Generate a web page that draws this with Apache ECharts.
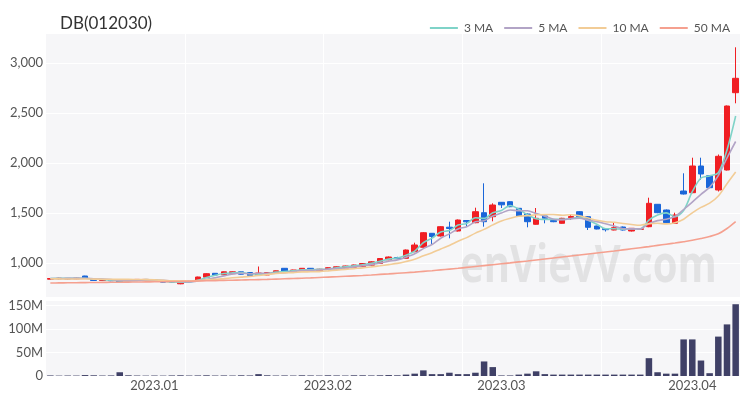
<!DOCTYPE html>
<html><head><meta charset="utf-8">
<script src="https://cdn.jsdelivr.net/npm/echarts@6/dist/echarts.min.js"></script>
<style>html,body{margin:0;padding:0;background:#fff}#c{width:750px;height:400px}</style>
</head><body><div id="c"></div>
<script>
const dates = [
'2022-12-14','2022-12-15','2022-12-16','2022-12-19','2022-12-20','2022-12-21','2022-12-22','2022-12-23','2022-12-26','2022-12-27','2022-12-28','2022-12-29',
'2023-01-02','2023-01-03','2023-01-04','2023-01-05','2023-01-06','2023-01-09','2023-01-10','2023-01-11','2023-01-12','2023-01-13','2023-01-16','2023-01-17','2023-01-18','2023-01-19','2023-01-20','2023-01-25','2023-01-26','2023-01-27','2023-01-30','2023-01-31',
'2023-02-01','2023-02-02','2023-02-03','2023-02-06','2023-02-07','2023-02-08','2023-02-09','2023-02-10','2023-02-13','2023-02-14','2023-02-15','2023-02-16','2023-02-17','2023-02-20','2023-02-21','2023-02-22','2023-02-23','2023-02-24','2023-02-27','2023-02-28',
'2023-03-02','2023-03-03','2023-03-06','2023-03-07','2023-03-08','2023-03-09','2023-03-10','2023-03-13','2023-03-14','2023-03-15','2023-03-16','2023-03-17','2023-03-20','2023-03-21','2023-03-22','2023-03-23','2023-03-24','2023-03-27','2023-03-28','2023-03-29','2023-03-30','2023-03-31',
'2023-04-03','2023-04-04','2023-04-05','2023-04-06','2023-04-07','2023-04-10'];
const openP = [838,842,840,842,870,838,825,830,830,825,828,830,830,820,818,792,818,828,858,897,882,893,912,905,875,880,897,947,907,923,947,922,937,942,948,957,963,978,995,1032,1055,1047,1113,1157,1297,1270,1358,1320,1425,1403,1503,1463,1607,1613,1547,1490,1387,1470,1425,1397,1453,1513,1463,1370,1345,1330,1360,1320,1337,1363,1587,1530,1397,1720,1703,1970,1873,1730,1930,2703];
const closeP = [845,848,846,848,848,825,833,822,808,833,836,836,815,808,808,812,812,860,893,880,912,912,888,875,900,905,922,915,930,947,922,938,953,962,970,980,995,1012,1045,1060,1045,1130,1180,1303,1265,1363,1345,1430,1412,1513,1413,1580,1582,1563,1470,1413,1447,1447,1413,1447,1465,1463,1357,1340,1333,1353,1330,1347,1342,1597,1503,1403,1480,1690,1970,1890,1753,2067,2570,2847];
const lowP = [832,836,835,838,845,820,820,818,805,820,825,826,810,805,803,788,808,825,855,875,878,888,885,872,870,877,893,912,903,920,918,918,933,938,945,953,958,973,990,1028,1035,1043,1108,1150,1180,1265,1247,1315,1370,1398,1363,1417,1550,1558,1465,1357,1383,1397,1408,1393,1430,1460,1330,1337,1315,1327,1325,1315,1333,1358,1498,1398,1393,1685,1698,1833,1748,1715,1925,2597];
const highP = [850,852,850,852,872,840,838,835,832,838,840,840,835,825,822,815,822,863,897,900,915,915,915,908,965,908,925,950,933,950,950,942,957,965,973,983,1000,1018,1050,1065,1062,1135,1203,1310,1300,1368,1413,1435,1428,1553,1797,1597,1610,1617,1550,1495,1550,1473,1428,1452,1480,1517,1467,1373,1350,1403,1365,1350,1347,1653,1590,1535,1503,1897,2053,2053,1878,2085,2575,3157];
const volumeM = [1.2,0.8,1.0,0.9,2.0,1.5,1.0,1.2,8,1.5,1.0,0.8,1.0,0.8,1.2,1.5,1.0,1.2,1.5,1.0,1.2,1.0,1.5,1.2,4,1.5,1.0,1.2,1.0,1.5,1.2,1.0,1.5,1.2,1.0,1.5,1.5,1.2,1.5,2,1.5,3,5,12,4,4,7,4,4,7,31,19,1.2,1.2,3,5,10,4,3,3,3,3,3,3,3,3,3,3,3,38,8,5,5,78,78,33,6,84,110,153];
const ma3 = [845,846,846,847,847,840,835,827,821,821,826,835,829,820,810,809,811,828,855,878,895,901,904,892,888,893,909,914,922,931,933,936,938,951,962,971,982,996,1017,1039,1050,1078,1118,1204,1249,1310,1324,1379,1396,1452,1446,1502,1525,1575,1538,1482,1443,1436,1436,1436,1442,1458,1428,1387,1343,1342,1339,1343,1340,1429,1481,1501,1462,1524,1713,1850,1871,1903,2130,2470];
const ma5 = [845,845,846,846,847,843,840,835,827,824,826,827,826,826,821,816,811,820,837,851,871,891,897,893,897,896,898,903,914,924,927,930,938,944,949,961,972,984,1000,1018,1031,1058,1092,1144,1185,1248,1291,1341,1363,1413,1423,1470,1500,1530,1522,1522,1495,1468,1438,1433,1444,1447,1429,1414,1392,1369,1343,1341,1341,1394,1424,1438,1465,1535,1609,1687,1757,1874,2050,2215];
const ma10 = [842,841,840,840,840,839,838,837,836,836,835,834,831,827,823,822,820,824,832,837,844,852,859,866,875,884,895,901,904,911,912,914,921,929,936,944,951,961,972,984,996,1015,1038,1072,1102,1140,1175,1217,1254,1299,1336,1381,1421,1447,1468,1473,1483,1485,1485,1478,1483,1472,1449,1427,1413,1407,1395,1385,1378,1393,1397,1391,1403,1438,1502,1556,1598,1670,1793,1910];
const ma50 = [800,801,802,803,804,805,806,807,808,809,810,811,812,813,815,816,818,820,822,824,826,828,830,832,834,836,839,842,845,848,851,855,859,863,867,871,875,880,886,891,897,903,909,916,923,931,939,947,956,965,974,983,992,1001,1011,1020,1030,1040,1050,1060,1070,1080,1090,1100,1110,1120,1131,1142,1153,1164,1176,1188,1200,1213,1227,1245,1265,1292,1345,1413];
const priceTicks = [1000,1500,2000,2500,3000];
const volTicks = [0,50,100,150];
const seriesNames = ['3 MA','5 MA','10 MA','50 MA'];
const title = 'DB(012030)';
const watermark = 'enVievV.com';

const UP = '#f01e23', DOWN = '#1a66d9';
const maColors = ['#7fd3c8','#b2a4c6','#f2cc96','#f5a08f'];
const ohlc = dates.map((d,i)=>[openP[i],closeP[i],lowP[i],highP[i]]);
const maData = [ma3,ma5,ma10,ma50];

const chart = echarts.init(document.getElementById('c'), null, {renderer:'canvas'});
const font = 'Lato, "Noto Sans", sans-serif';
const xLabelInterval = (i)=> i>0 && dates[i].slice(0,7)!==dates[i-1].slice(0,7);
const xSplit = (i)=> i>0 && i%16===0;
chart.setOption({
  animation:false,
  backgroundColor:'#ffffff',
  title:{text:title,left:55,top:10,textStyle:{fontSize:17,fontWeight:'normal',color:'#333',fontFamily:font}},
  legend:{right:15,top:17,itemWidth:28,itemHeight:2,itemGap:11,icon:'rect',
    textStyle:{fontSize:12,color:'#555',fontFamily:font,padding:[0,0,0,1]},
    data:seriesNames.map((n,i)=>({name:n,itemStyle:{color:maColors[i]}}))},
  graphic:[{type:'text',left:460,top:241,z:1,silent:true,scaleX:0.77,
    style:{text:watermark,fontSize:52,fontWeight:'bold',fontFamily:'"Open Sans", Arial, sans-serif',fill:'rgba(190,190,190,0.36)'}}],
  grid:[
    {left:46,right:10,top:33,height:264,show:true,backgroundColor:'#f6f6f8',borderWidth:0},
    {left:46,right:10,top:300,height:76,show:true,backgroundColor:'#f6f6f8',borderWidth:0}
  ],
  xAxis:[
    {type:'category',gridIndex:0,data:dates,boundaryGap:true,axisLine:{show:false},axisTick:{show:false},axisLabel:{show:false},
     splitLine:{show:true,interval:xSplit,lineStyle:{color:'#ffffff',width:1}}},
    {type:'category',gridIndex:1,data:dates,boundaryGap:true,axisLine:{show:false},axisTick:{show:false},
     axisLabel:{interval:xLabelInterval,formatter:v=>v.slice(0,7).replace('-','.'),fontSize:13,color:'#555',margin:3,fontFamily:font},
     splitLine:{show:true,interval:xSplit,lineStyle:{color:'#ffffff',width:1}}}
  ],
  yAxis:[
    {type:'value',gridIndex:0,min:660,max:3300,splitNumber:5,axisLine:{show:false},axisTick:{show:false},
     axisLabel:{showMinLabel:false,showMaxLabel:false,fontSize:13,color:'#555',margin:3,fontFamily:font,
       formatter:v=>priceTicks.includes(v)?v.toLocaleString('en-US'):''},
     splitLine:{lineStyle:{color:'#ffffff',width:1}}},
    {type:'value',gridIndex:1,min:0,max:162,interval:50,axisLine:{show:false},axisTick:{show:false},
     axisLabel:{showMaxLabel:false,fontSize:13,color:'#555',margin:3,fontFamily:font,
       formatter:v=>volTicks.includes(v)?(v===0?'0':v+'M'):''},
     splitLine:{lineStyle:{color:'#ffffff',width:1}}}
  ],
  series:[
    {type:'candlestick',name:'price',xAxisIndex:0,yAxisIndex:0,data:ohlc,barWidth:'70%',z:3,
     itemStyle:{color:UP,color0:DOWN,borderColor:UP,borderColor0:DOWN,borderWidth:1}},
    ...maData.map((d,i)=>({type:'line',name:seriesNames[i],xAxisIndex:0,yAxisIndex:0,data:d,smooth:0.3,showSymbol:false,z:4,
      lineStyle:{color:maColors[i],width:1.6},itemStyle:{color:maColors[i]}})),
    {type:'bar',name:'volume',xAxisIndex:1,yAxisIndex:1,data:volumeM,barWidth:'75%',itemStyle:{color:'#3f4066'}}
  ]
});
</script></body></html>
